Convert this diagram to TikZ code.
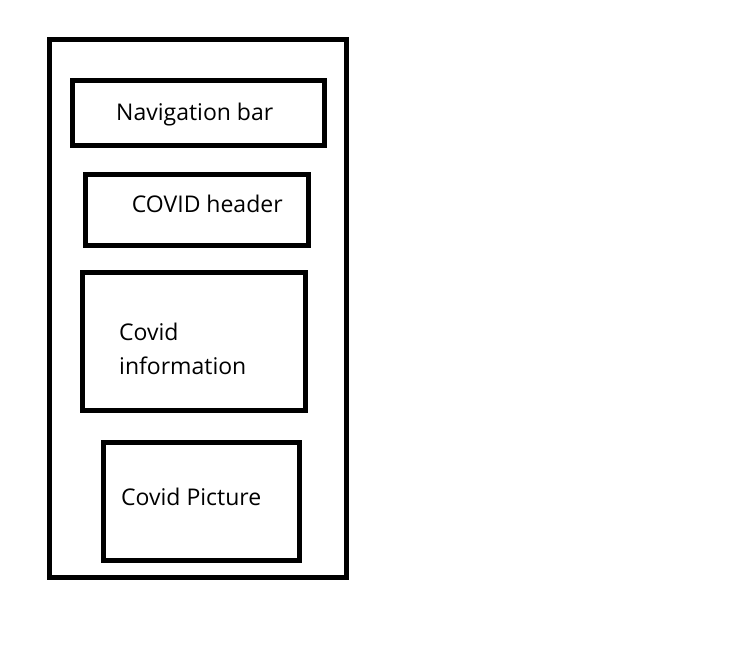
\documentclass[tikz,border=0pt]{standalone}
\usepackage{fontspec}
\setmainfont{Open Sans}
\usetikzlibrary{positioning}

\tikzset{
  frame/.style={draw, line width=5pt, inner sep=0pt, outer sep=0pt},
  lbl/.style={anchor=base west, inner sep=0pt, align=left,
    font=\fontsize{23}{34}\selectfont}
}

\begin{document}
\begin{tikzpicture}[x=1pt, y=-1pt]
  \useasboundingbox[fill=white] (0,0) rectangle (739,648);

  % page and its blocks
  \node[frame, minimum width=297pt, minimum height=538pt] (page) at (198,308.5) {};
  \node[frame, minimum width=251.3pt, minimum height=65.5pt] (nav) at (198.4,112.8) {};
  \node[frame, minimum width=222.2pt, minimum height=71pt] (head) at (196.9,209.5) {};
  \node[frame, minimum width=222.5pt, minimum height=138pt] (info) at (193.75,341) {};
  \node[frame, minimum width=195.5pt, minimum height=117.5pt] (pic) at (201.25,501.25) {};

  % texts
  \node[lbl] (navtxt) at (116,120.7) {Navigation bar};
  \node[lbl] (headtxt) at (131.7,212.7) {COVID header};
  \node[lbl] (infotxt) at (119,374) {Covid\\information};
  \node[lbl] (pictxt) at (121,505) {Covid Picture};
\end{tikzpicture}
\end{document}
